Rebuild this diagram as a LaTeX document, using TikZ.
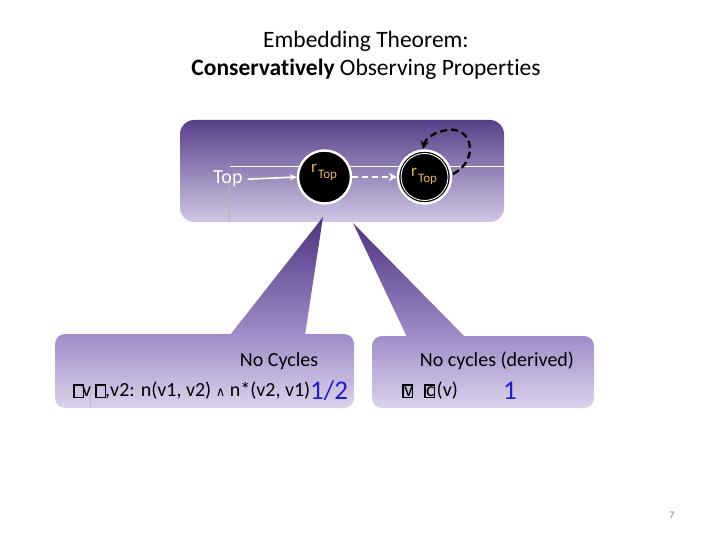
\documentclass[tikz,border=0pt]{standalone}
\usepackage{fontspec}
\setmainfont{Carlito}[Ligatures=NoCommon]
\newfontfamily\dv{DejaVu Sans}
\usetikzlibrary{arrows.meta}
\definecolor{pdark}{HTML}{584089}
\definecolor{pmid}{HTML}{8E78BC}
\definecolor{plight}{HTML}{D0C8E5}
\definecolor{cbtop}{HTML}{A08CC8}
\definecolor{cbbot}{HTML}{DAD3EC}
\definecolor{tipdark}{HTML}{4E3480}
\definecolor{gold}{HTML}{E8B450}
\definecolor{nblue}{HTML}{2020C0}
\newcommand\tofu{\rlap{\setlength\fboxsep{0pt}\setlength\fboxrule{1.3pt}\raisebox{-0.5pt}{\fbox{\rule{0pt}{11pt}\hspace{8.5pt}}}}}
\tikzset{
  state/.style={circle, fill=black, draw=white, line width=2.4pt, minimum size=53pt, inner sep=0pt},
  wire/.style={draw=white, line width=1.6pt, -{Stealth[length=7pt,width=6pt]}},
  dwire/.style={draw=white, line width=2.4pt, dash pattern=on 6pt off 4pt, -{Stealth[length=8pt,width=8pt]}},
  loopwire/.style={draw=black, line width=2.4pt, dash pattern=on 7pt off 4pt, -{Stealth[length=8pt,width=8pt]}},
  lbl/.style={font=\fontsize{20}{22}\selectfont, inner sep=0pt},
  rlab/.style={text=gold, inner sep=0pt, anchor=base west}
}
\begin{document}
\begin{tikzpicture}[x=1pt,y=-1pt]
\useasboundingbox (0,0) rectangle (720,540);
\fill[white] (0,0) rectangle (720,540);
% title
\node[anchor=base, font=\fontsize{23.5}{26}\selectfont, inner sep=0pt] (t1) at (366,48) {Embedding Theorem:};
\node[anchor=base, font=\fontsize{23.5}{26}\selectfont, inner sep=0pt] (t2) at (366,76) {\textbf{Conservatively} Observing Properties};
% top panel
\shade[rounded corners=14pt, top color=pdark, middle color=pmid, bottom color=plight] (180,120) rectangle (504,222);
\draw[white, line width=0.6pt] (230,166) -- (504,166);
\draw[gray!60, line width=0.4pt] (229,177) -- (229,222);
% callout triangles
\shade[top color=tipdark, bottom color=cbtop] (323,217) -- (305,335) -- (230,335) -- cycle;
\shade[top color=tipdark, bottom color=cbtop] (353,223) -- (465,337) -- (407,337) -- cycle;
% callout boxes
\shade[rounded corners=10pt, top color=cbtop, bottom color=cbbot] (55,334) rectangle (354,408);
\shade[rounded corners=10pt, top color=cbtop, bottom color=cbbot] (372,336) rectangle (594,408);
\draw[gray!50, line width=0.4pt] (90,380) -- (90,408);
% graph
\node[anchor=base, font=\fontsize{20}{22}\selectfont, text=white, inner sep=5pt] (top) at (228,184) {Top};
\node[state] (r1) at (324.5,177) {};
\node[state] (r2) at (424.5,177) {};
\draw[white, line width=0.9pt] (r2.center) circle (23.5pt);
\node[rlab, font=\fontsize{17}{18}\selectfont] (l1r) at (311,173) {r};
\node[rlab, font=\fontsize{13}{14}\selectfont] (l1t) at (318,179) {Top};
\node[rlab, font=\fontsize{17}{18}\selectfont] (l2r) at (411,177) {r};
\node[rlab, font=\fontsize{13}{14}\selectfont] (l2t) at (418,183) {Top};
\draw[wire] (top.east) -- (r1.west);
\draw[dwire] (r1.east) -- (r2.west);
\coordinate (ls) at (453,174);
\draw[loopwire] (ls) .. controls (480,160) and (472,126) .. (448,130) .. controls (432,132) and (425,140) .. (423,149);
% callout texts
\node[lbl, anchor=base] (nc) at (279,366) {No Cycles};
\node[lbl, anchor=base west] (f1) at (73,396) {\tofu\kern9pt v\kern4pt\tofu\kern10pt,v2: n(v1, v2) {\dv\fontsize{13}{14}\selectfont ∧} n*(v2, v1)};
\node[anchor=base west, font=\fontsize{27}{28}\selectfont, text=nblue, inner sep=0pt] (h) at (310,399) {1/2};
\node[lbl, anchor=base] (nd) at (497,366) {No cycles (derived)};
\node[lbl, anchor=base west] (f2) at (402,396) {\tofu\kern2pt v\kern11pt\tofu\kern2pt c\kern2pt(v)};
\node[anchor=base, font=\fontsize{27}{28}\selectfont, text=nblue, inner sep=0pt] (one) at (510,399) {1};
\node[anchor=base, font=\fontsize{10}{12}\selectfont, text=gray, inner sep=0pt] (pg) at (672,518) {7};
\end{tikzpicture}
\end{document}
